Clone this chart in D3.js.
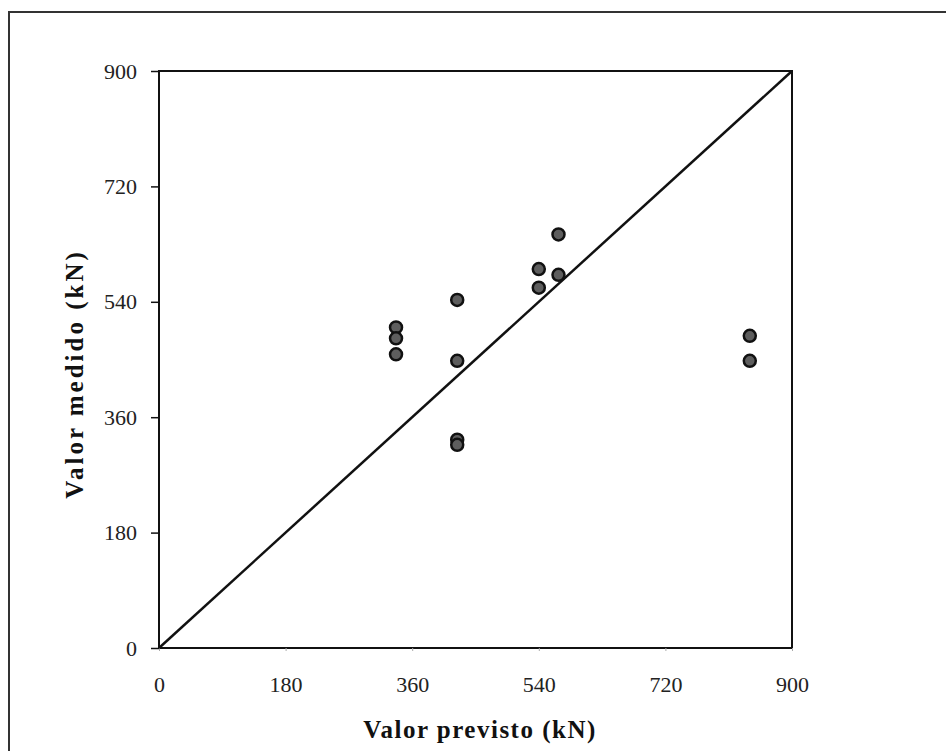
<!DOCTYPE html>
<html>
<head>
<meta charset="utf-8">
<script src="https://cdn.jsdelivr.net/npm/d3@7"></script>
<style>
  body { margin: 0; background: #fff; }
  svg { display: block; }
</style>
</head>
<body>
<svg id="chart"></svg>
<script>
// predicted vs measured (kN)
const previsto = [568, 540, 568, 540, 424, 337, 337, 337, 424, 424, 424, 840, 840];
const medido   = [645, 591, 582, 562, 543, 500, 483, 458, 448, 325, 317, 487, 448];
const tickValues = [0, 180, 360, 540, 720, 900];

const svgWidth = 946, svgHeight = 751;
const margin = { top: 71, right: 154, bottom: 103, left: 159 };
const chartWidth = svgWidth - margin.left - margin.right;
const chartHeight = svgHeight - margin.top - margin.bottom;

const xScale = d3.scaleLinear().domain([0, 900]).range([0, chartWidth]);
const yScale = d3.scaleLinear().domain([0, 900]).range([chartHeight, 0]);

const svg = d3.select('#chart')
              .attr('width', svgWidth)
              .attr('height', svgHeight);

// outer frame (only top and left edges show)
svg.append('path')
   .attr('d', 'M9,760 L9,12 L960,12')
   .attr('fill', 'none')
   .attr('stroke', '#333')
   .attr('stroke-width', 2);

const chartGroup = svg.append('g')
                      .attr('transform', `translate(${margin.left}, ${margin.top})`);

// plot box
chartGroup.append('rect')
          .attr('width', chartWidth)
          .attr('height', chartHeight)
          .attr('fill', 'none')
          .attr('stroke', '#111')
          .attr('stroke-width', 2);

// x axis
const xAxisGroup = chartGroup.append('g')
                             .attr('transform', `translate(0, ${chartHeight})`)
                             .call(d3.axisBottom(xScale).tickValues(tickValues).tickSize(3).tickSizeOuter(0).tickPadding(25));
xAxisGroup.select('.domain').remove();
xAxisGroup.selectAll('line').attr('stroke', '#aaa');
xAxisGroup.selectAll('text')
          .style('font-family', '"Liberation Serif", serif')
          .style('font-size', '22px')
          .attr('fill', '#222');

// y axis
const yAxisGroup = chartGroup.append('g')
                             .call(d3.axisLeft(yScale).tickValues(tickValues).tickSize(8).tickSizeOuter(0).tickPadding(14));
yAxisGroup.select('.domain').remove();
yAxisGroup.selectAll('line').attr('stroke', '#111').attr('stroke-width', 1.5);
yAxisGroup.selectAll('text')
          .style('font-family', '"Liberation Serif", serif')
          .style('font-size', '22px')
          .attr('fill', '#222');

// 1:1 line
chartGroup.append('line')
          .attr('x1', xScale(0)).attr('y1', yScale(0))
          .attr('x2', xScale(900)).attr('y2', yScale(900))
          .attr('stroke', '#111')
          .attr('stroke-width', 2.5);

// points
chartGroup.selectAll('.pt')
          .data(previsto)
          .enter()
          .append('circle')
          .attr('class', 'pt')
          .attr('cx', d => xScale(d))
          .attr('cy', (d, i) => yScale(medido[i]))
          .attr('r', 6)
          .attr('fill', '#5e5e5e')
          .attr('stroke', '#111')
          .attr('stroke-width', 2.5);

// axis titles
svg.append('text')
   .attr('x', 480)
   .attr('y', 738)
   .attr('text-anchor', 'middle')
   .style('font-family', '"Liberation Serif", serif')
   .style('font-weight', 'bold')
   .style('font-size', '25px')
   .style('letter-spacing', '1.5px')
   .attr('fill', '#111')
   .text('Valor previsto (kN)');

svg.append('text')
   .attr('transform', 'translate(83, 374) rotate(-90)')
   .attr('text-anchor', 'middle')
   .style('font-family', '"Liberation Serif", serif')
   .style('font-weight', 'bold')
   .style('font-size', '25px')
   .style('letter-spacing', '3px')
   .attr('fill', '#111')
   .text('Valor medido (kN)');
</script>
</body>
</html>
